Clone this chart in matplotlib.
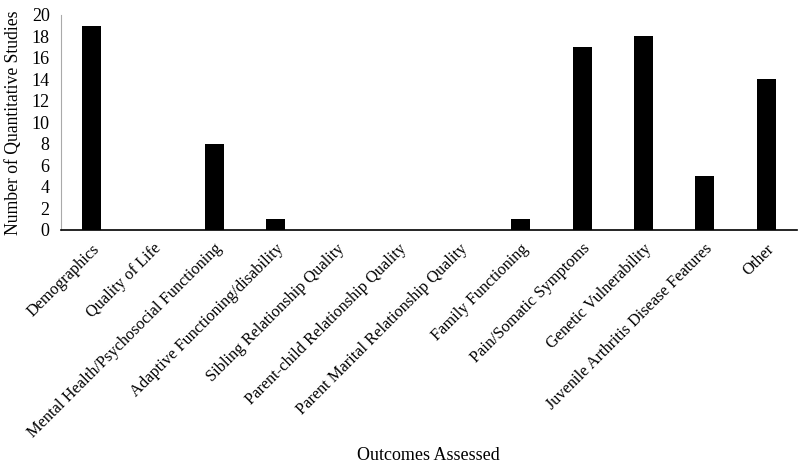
import matplotlib
matplotlib.use("Agg")
import matplotlib.pyplot as plt
import matplotlib.transforms as mtransforms
import numpy as np

plt.rcParams['font.family'] = ['Liberation Serif', 'DejaVu Serif']

categories = [
    "Demographics",
    "Quality of Life",
    "Mental Health/Psychosocial Functioning",
    "Adaptive Functioning/disability",
    "Sibling Relationship Quality",
    "Parent-child Relationship Quality",
    "Parent Marital Relationship Quality",
    "Family Functioning",
    "Pain/Somatic Symptoms",
    "Genetic Vulnerability",
    "Juvenile Arthritis Disease Features",
    "Other",
]
counts = [19, 0, 8, 1, 0, 0, 0, 1, 17, 18, 5, 14]
y_ticks = [0, 2, 4, 6, 8, 10, 12, 14, 16, 18, 20]

fig = plt.figure(figsize=(8, 4.68), dpi=100)
ax = fig.add_axes([0.076, 0.509, 0.92, 0.459])

x = np.arange(len(categories))
ax.bar(x, counts, width=0.31, color="black")

ax.set_xlim(-0.5, len(categories) - 0.5)
ax.set_ylim(0, 20)
ax.set_yticks(y_ticks)
ax.set_xticks(x)
ax.set_xticklabels(categories, rotation=45, ha="right", va="center",
                   rotation_mode="anchor", fontsize=11.8)
ax.tick_params(axis="both", length=0)
ax.tick_params(axis="y", labelsize=13, pad=8)
ax.tick_params(axis="x", pad=12)

# nudge the slanted labels a little to the right
shift = mtransforms.ScaledTranslation(4 / 72, 0, fig.dpi_scale_trans)
for lab in ax.get_xticklabels():
    lab.set_transform(lab.get_transform() + shift)

for side in ["top", "right"]:
    ax.spines[side].set_visible(False)
ax.spines["left"].set_color("#aaaaaa")
ax.spines["left"].set_linewidth(0.8)
ax.spines["bottom"].set_color("black")
ax.spines["bottom"].set_linewidth(1.2)

ax.set_ylabel("Number of Quantitative Studies", fontsize=12.7)
ax.yaxis.set_label_coords(-0.053, 0.5)
ax.set_xlabel("Outcomes Assessed", fontsize=13)
ax.xaxis.set_label_coords(0.5, -1.01)

fig.savefig("out.png", dpi=100)
